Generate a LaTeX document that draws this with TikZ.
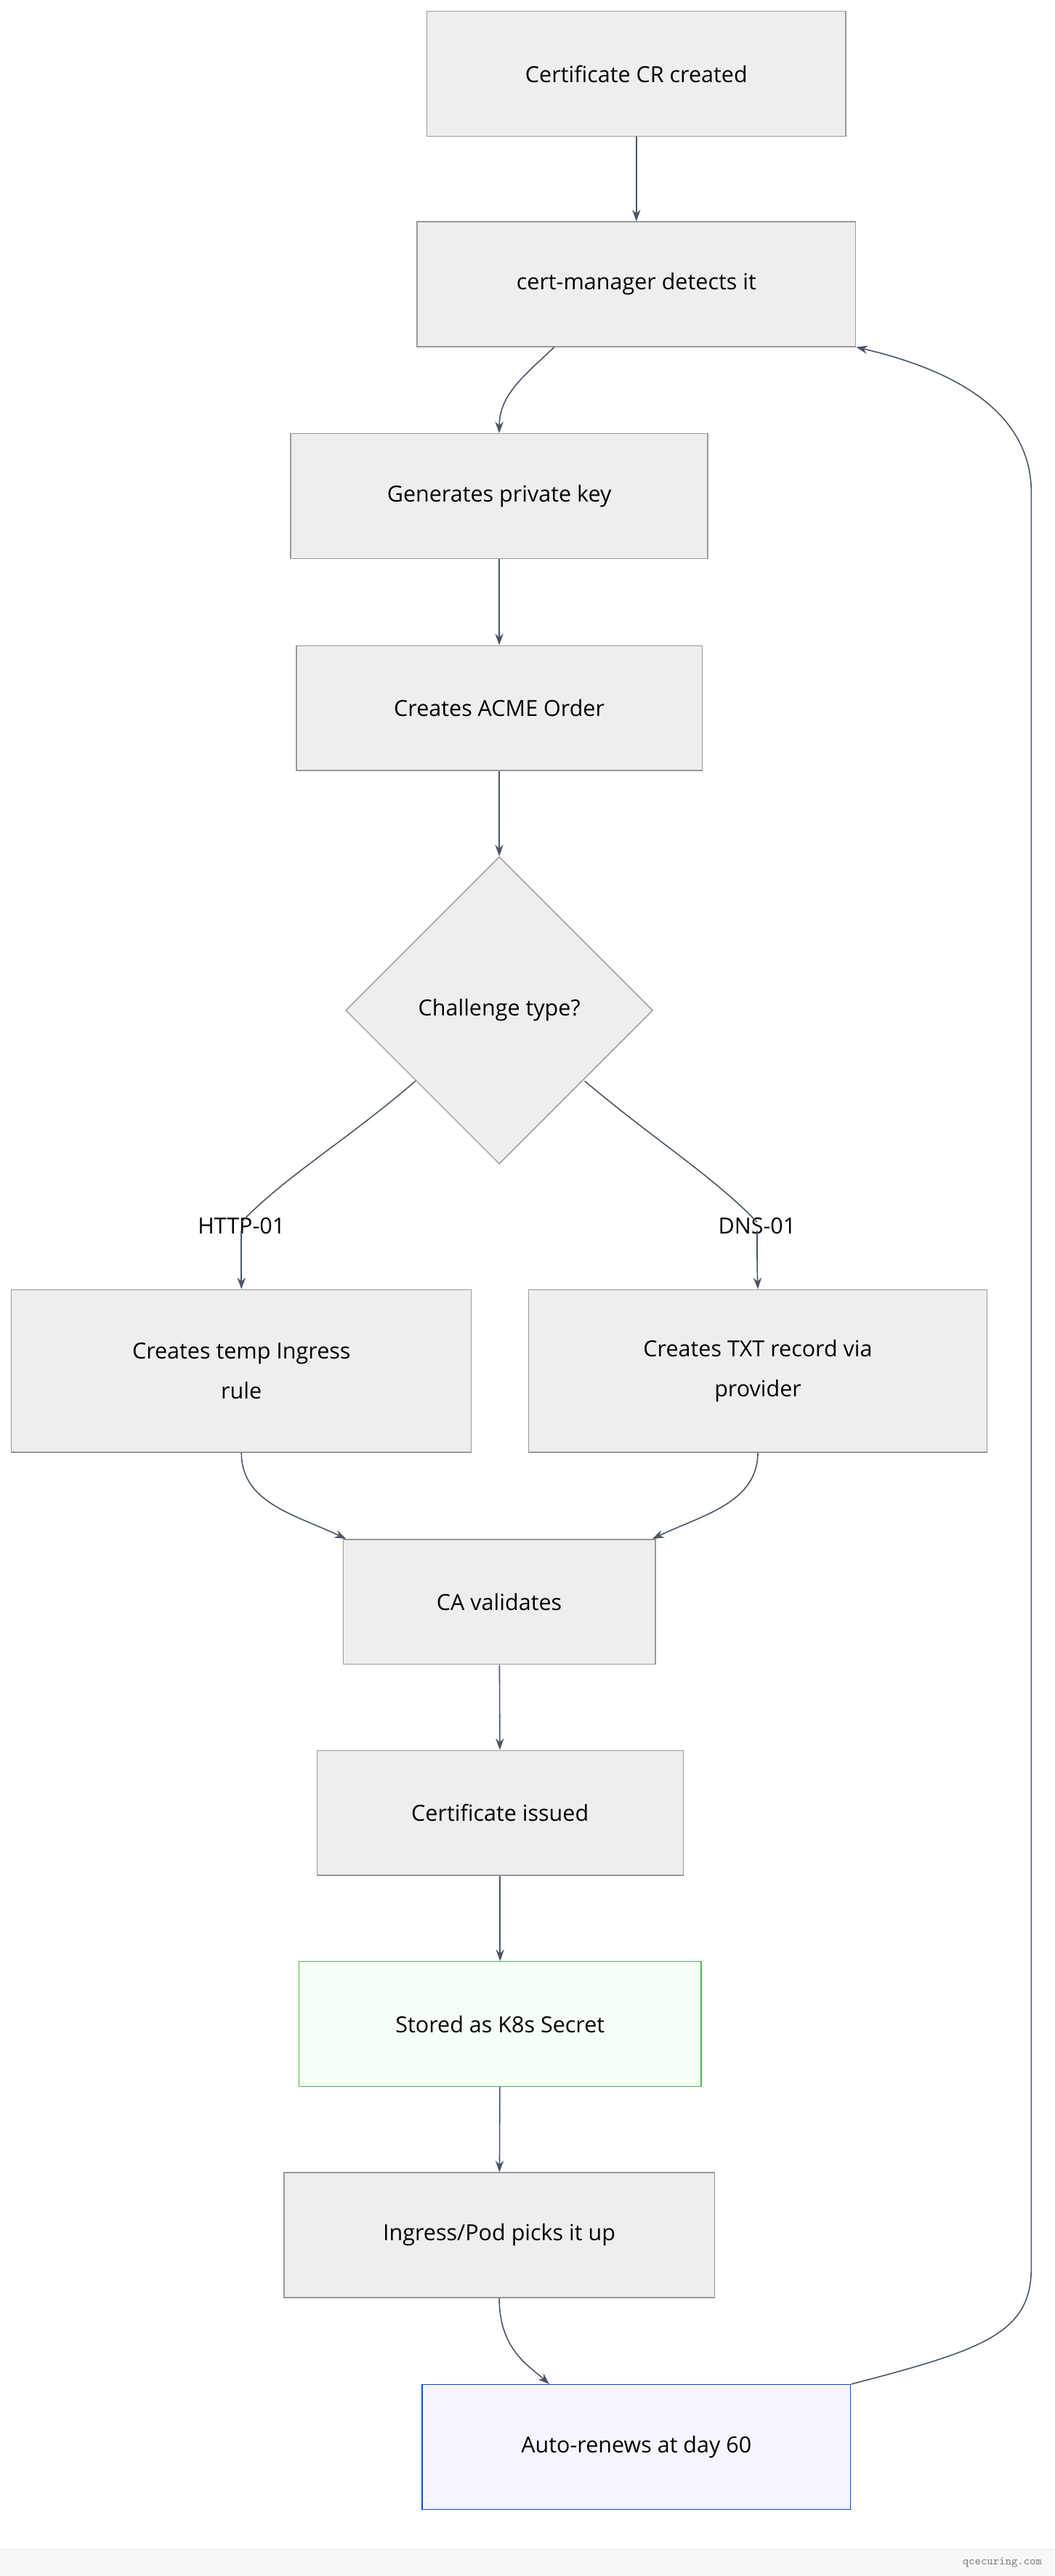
\documentclass[tikz,border=0pt]{standalone}
\usepackage{fontspec}
\setmainfont{Open Sans}
\usetikzlibrary{shapes.geometric,arrows.meta}
\definecolor{bx}{HTML}{EEEEEE}
\definecolor{bd}{HTML}{999999}
\definecolor{ln}{HTML}{4A5568}
\begin{document}
\begin{tikzpicture}[x=1pt,y=-1pt,
  box/.style={draw=bd,fill=bx,line width=0.6pt,minimum height=76pt,inner sep=0pt,align=center,font=\fontsize{13.5}{24}\selectfont},
  ar/.style={draw=ln,line width=0.7pt,-{Stealth[length=7pt,width=5pt]}},
  lbl/.style={font=\fontsize{13.5}{16}\selectfont,inner sep=1pt}]
\useasboundingbox (0,0) rectangle (642,1568);
\fill[white] (0,0) rectangle (642,1568);
\fill[gray!6] (0,1552) rectangle (642,1568);
\draw[gray!20,line width=0.4pt] (0,1552) -- (642,1552);
\node[anchor=east,font=\ttfamily\fontsize{7}{8}\selectfont,text=gray] (ft) at (638,1560) {qcecuring.com};
\node[box,minimum width=255pt] (a) at (387.5,45) {Certificate CR created};
\node[box,minimum width=267pt] (b) at (387.5,173) {cert-manager detects it};
\node[box,minimum width=254pt] (c) at (304,302) {Generates private key};
\node[box,minimum width=247pt] (d) at (304,431) {Creates ACME Order};
\node[diamond,draw=bd,fill=bx,line width=0.6pt,minimum width=187pt,minimum height=187pt,inner sep=0pt,font=\fontsize{13.5}{16}\selectfont] (e) at (304,615) {Challenge type?};
\node[box,minimum width=280pt,minimum height=99pt] (f) at (147,834.5) {Creates temp Ingress\\rule};
\node[box,minimum width=279pt,minimum height=99pt] (g) at (461.5,834.5) {Creates TXT record via\\provider};
\node[box,minimum width=190pt] (h) at (304,975) {CA validates};
\node[box,minimum width=223pt] (i) at (304.5,1103.5) {Certificate issued};
\node[box,minimum width=245pt,draw=green!60!black!70,fill=green!4] (j) at (304.5,1232) {Stored as K8s Secret};
\node[box,minimum width=262pt] (k) at (304,1360.5) {Ingress/Pod picks it up};
\node[box,minimum width=261pt,draw=blue!70!cyan,fill=blue!4] (l) at (387.5,1489.5) {Auto-renews at day 60};
\node[lbl] (h1) at (147,746) {HTTP-01};
\node[lbl] (d1) at (461,746) {DNS-01};
\coordinate (b1) at ([xshift=-50pt]b.south);
\coordinate (e1) at (253,658);
\coordinate (e2) at (356,658);
\coordinate (l1) at ([xshift=-53pt]l.north);
\draw[ar] (a) -- (b);
\draw[ar] (b1) .. controls (320,228) and (304,240) .. (c.north);
\draw[ar] (c) -- (d);
\draw[ar] (d) -- (e);
\draw[draw=ln,line width=0.7pt] (e1) .. controls (210,695) and (175,715) .. ([yshift=-4pt]h1.north);
\draw[draw=ln,line width=0.7pt] (e2) .. controls (400,695) and (433,715) .. ([yshift=-4pt]d1.north);
\draw[ar] ([yshift=3pt]h1.south) .. controls (147,765) and (147,772) .. (f.north);
\draw[ar] ([yshift=3pt]d1.south) .. controls (461,765) and (461,772) .. (g.north);
\draw[ar] (f.south) .. controls (147,915) and (180,922) .. ([xshift=2pt]h.north west);
\draw[ar] (g.south) .. controls (461,915) and (428,922) .. ([xshift=-2pt]h.north east);
\draw[ar] (h) -- (i);
\draw[ar] (i) -- (j);
\draw[ar] (j) -- (k);
\draw[ar] (k.south) .. controls (304,1430) and (322,1440) .. (l1);
\draw[ar] (l.north east) .. controls (600,1430) and (628,1420) .. (628,1380) -- (628,300) .. controls (628,250) and (580,225) .. (b.south east);
\end{tikzpicture}
\end{document}
